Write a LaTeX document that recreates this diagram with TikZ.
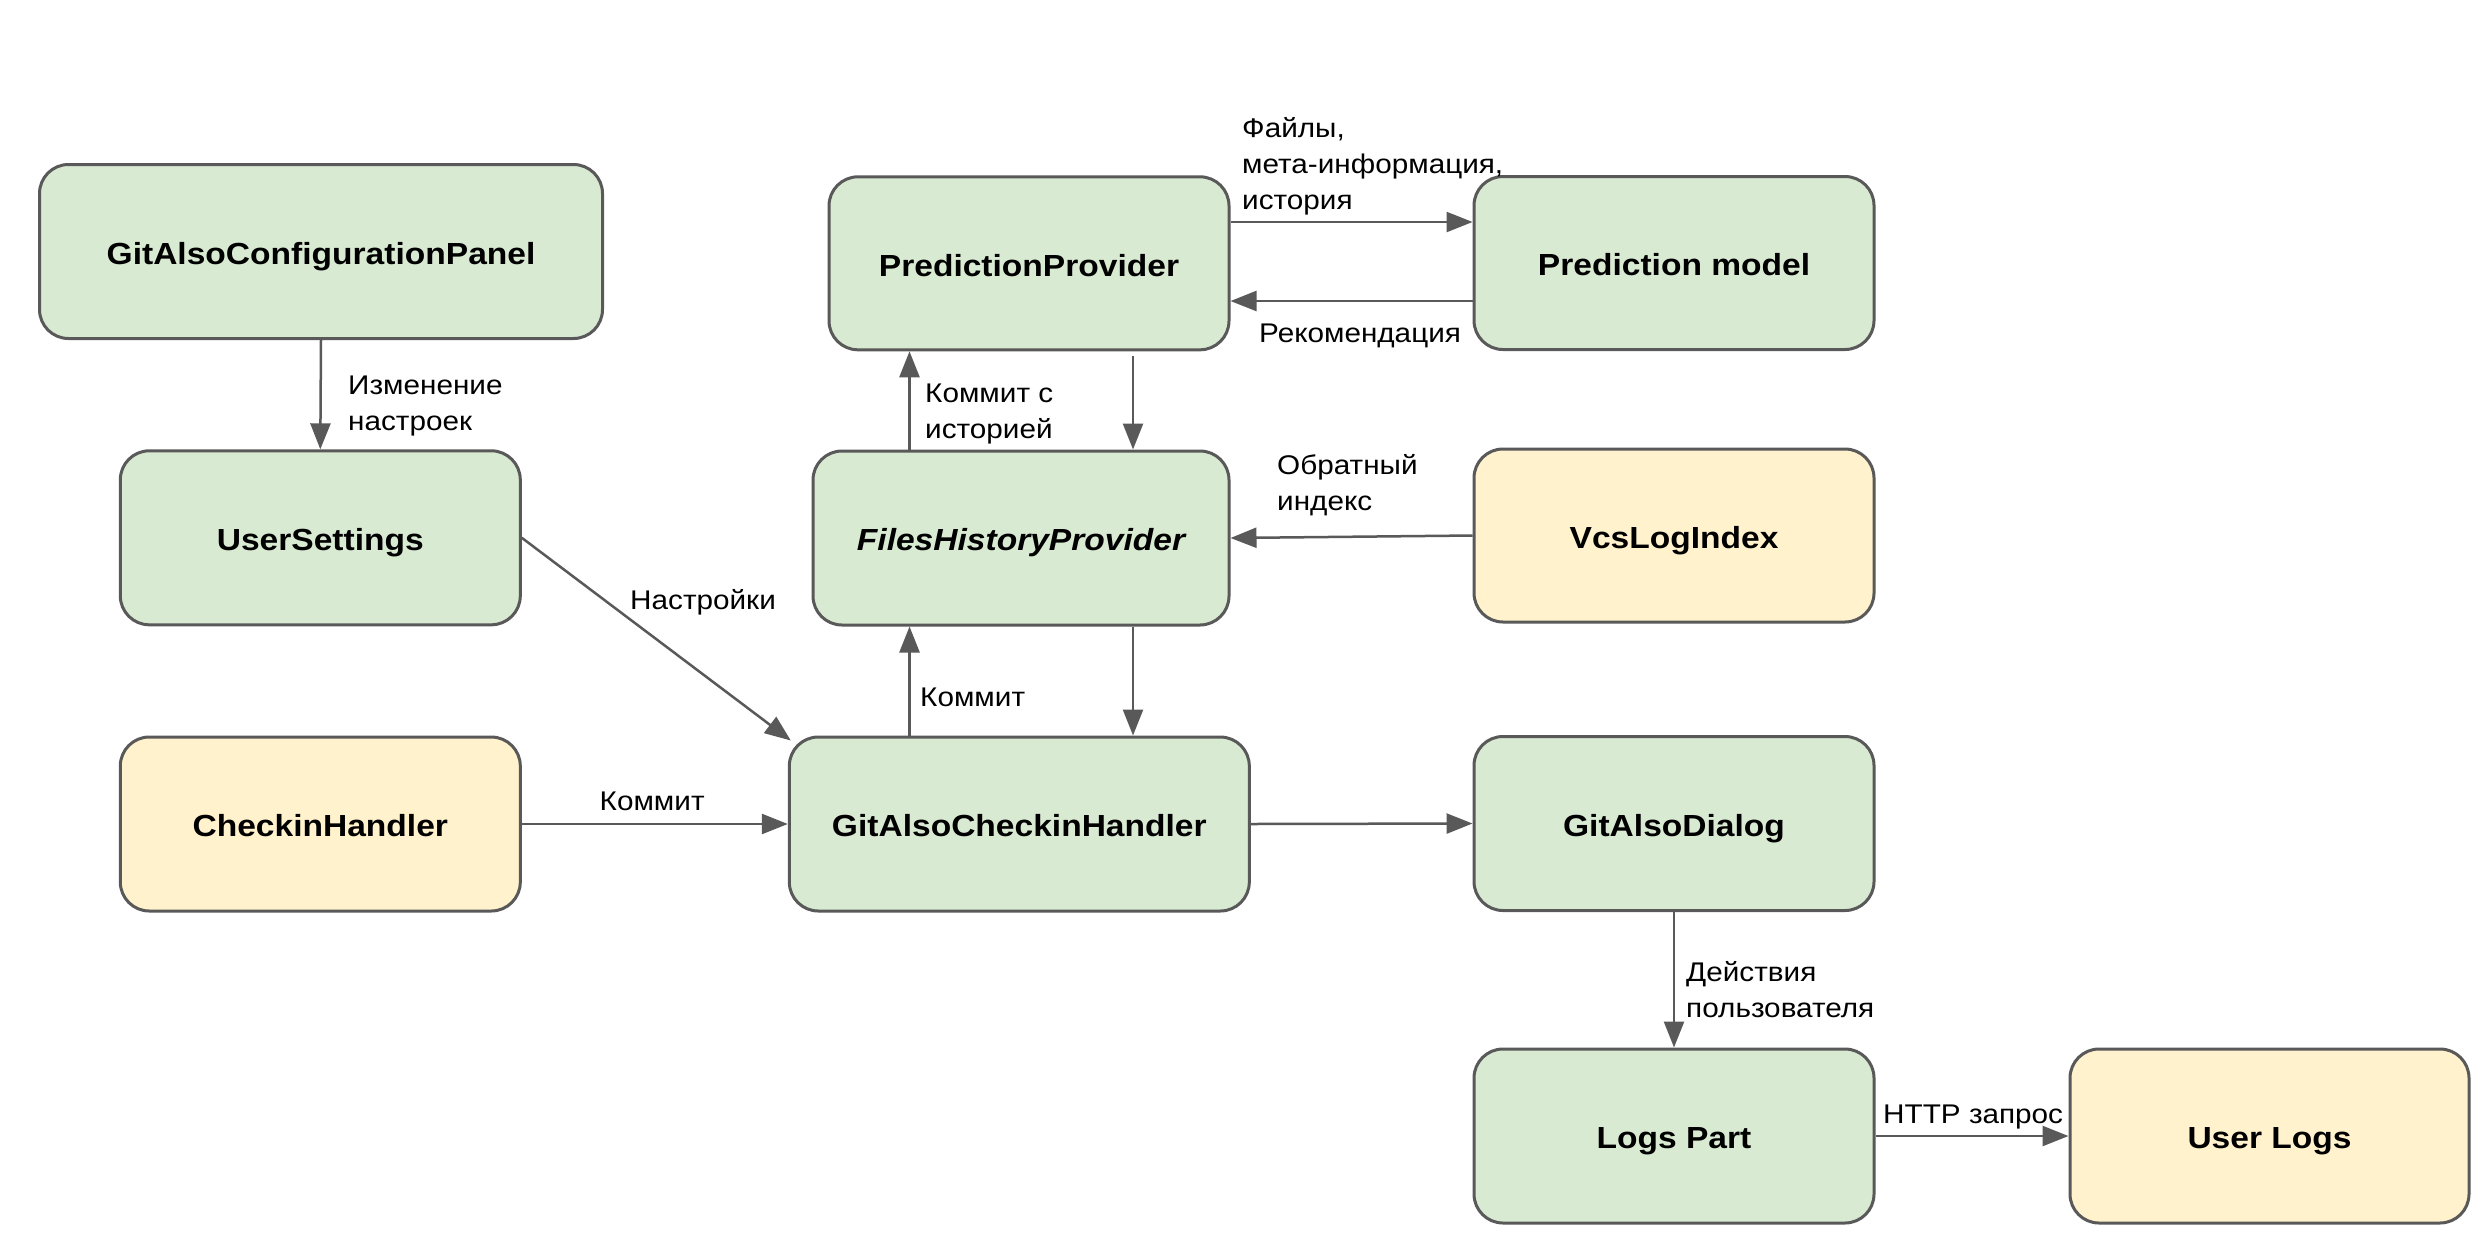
\documentclass[tikz,border=0pt]{standalone}
\usepackage{fontspec}
\setmainfont{Liberation Sans}[FakeStretch=1.1]
\usetikzlibrary{arrows.meta,calc}
\definecolor{edgec}{HTML}{595959}
\definecolor{greenf}{HTML}{D9EAD3}
\definecolor{yellowf}{HTML}{FFF2CC}
\begin{document}
\begin{tikzpicture}[x=1pt,y=-1pt,
 box/.style={draw=edgec, line width=3pt, rounded corners=29pt, minimum height=174pt, minimum width=400pt, inner sep=0pt, text height=25.5pt, text depth=0pt, font=\fontsize{30.5}{36}\selectfont\bfseries},
 gbox/.style={box, fill=greenf},
 ybox/.style={box, fill=yellowf},
 arr/.style={draw=edgec, line width=2.5pt, -{Triangle[length=26pt,width=20pt]}},
 lbl/.style={anchor=north west, inner sep=0pt, align=left, font=\fontsize{27}{36}\selectfont}
]
\useasboundingbox[fill=white] (0,0) rectangle (2480,1248);

% nodes
\node[gbox, minimum width=563pt] (cfg) at (321,251.5) {GitAlsoConfigurationPanel};
\node[gbox] (us) at (320.3,537.8) {UserSettings};
\node[ybox] (ch) at (320.3,824) {CheckinHandler};
\node[gbox, minimum height=173pt] (pp) at (1029,263.3) {PredictionProvider};
\node[gbox, minimum width=416pt] (fhp) at (1021,538) {\itshape FilesHistoryProvider};
\node[gbox, minimum width=460pt] (gach) at (1019.3,824) {GitAlsoCheckinHandler};
\node[gbox, minimum height=173pt] (pm) at (1674,263) {Prediction model};
\node[ybox, minimum height=173pt] (vli) at (1674,535.5) {VcsLogIndex};
\node[gbox] (gad) at (1674,823.5) {GitAlsoDialog};
\node[gbox] (lp) at (1674,1136) {Logs Part};
\node[ybox, minimum width=399pt] (ul) at (2269.5,1136) {User Logs};

% helper coordinates
\coordinate (upx) at (909.5,0);
\coordinate (dnx) at (1133,0);
\coordinate (ya) at (0,222);
\coordinate (yb) at (0,301);

% connectors
\draw[arr] (cfg.south) -- (us.north);
\draw[arr] (us.east) -- ($(gach.north west)+(3,5)$);
\draw[arr] (ch.east) -- (gach.west);
\draw[arr] (gach.east) -- (gad.west);
\draw[arr] (gad.south) -- (lp.north);
\draw[arr] (lp.east) -- (ul.west);
\draw[arr] (fhp.north -| upx) -- (pp.south -| upx);
\draw[arr] ([yshift=-5pt]pp.south -| dnx) -- (fhp.north -| dnx);
\draw[arr] (gach.north -| upx) -- (fhp.south -| upx);
\draw[arr] (fhp.south -| dnx) -- (gach.north -| dnx);
\draw[arr] (pp.east |- ya) -- (pm.west |- ya);
\draw[arr] (pm.west |- yb) -- (pp.east |- yb);
\draw[arr] (vli.west) -- (fhp.east);

% labels
\node[lbl] (l1) at (348,369.4) {\strut Изменение\\настроек};
\node[lbl] (l2) at (925,377) {\strut Коммит с\\историей};
\node[lbl] (l3) at (1242,112) {\strut Файлы,\\мета-информация,\\история};
\node[lbl] (l4) at (1259,317) {\strut Рекомендация};
\node[lbl] (l5) at (1277,449) {\strut Обратный\\индекс};
\node[lbl] (l6) at (630,584) {\strut Настройки};
\node[lbl] (l7) at (920,681) {\strut Коммит};
\node[lbl] (l8) at (599.5,785) {\strut Коммит};
\node[lbl] (l9) at (1686,956) {\strut Действия\\пользователя};
\node[lbl] (l10) at (1883,1098) {\strut HTTP запрос};
\end{tikzpicture}
\end{document}
